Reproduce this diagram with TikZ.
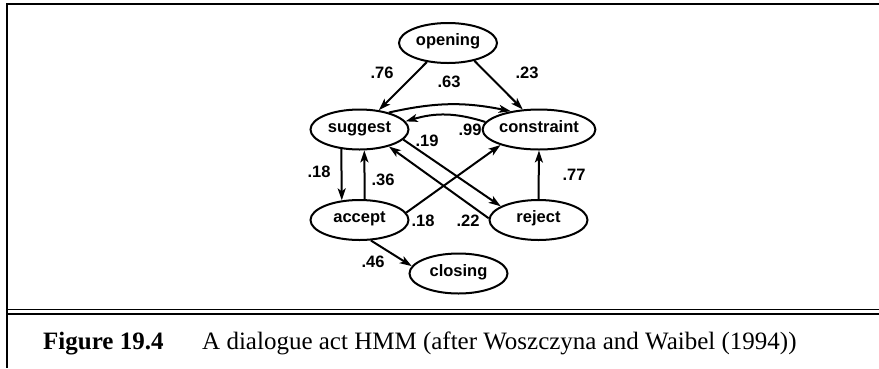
\documentclass[tikz,border=0pt]{standalone}
\usepackage{fontspec}
\setmainfont{Liberation Serif}
\newfontfamily\diagfont{Liberation Sans}
\usetikzlibrary{shapes.geometric,arrows.meta}
\tikzset{
  state/.style={ellipse,draw,line width=2pt,minimum width=98pt,minimum height=40pt,inner sep=0pt,
    font=\diagfont\bfseries\fontsize{16.5}{18}\selectfont,text height=5pt,text depth=0pt},
  prob/.style={inner sep=0pt,font=\diagfont\bfseries\fontsize{16.5}{18}\selectfont,text height=11.5pt,text depth=0pt},
  arr/.style={line width=2pt,-{Stealth[length=12pt,width=8pt,inset=3pt]}},
  rule/.style={line cap=butt},
  captxt/.style={inner sep=0pt,anchor=base west,font=\fontsize{25}{30}\selectfont}
}
\begin{document}
\begin{tikzpicture}[x=1pt,y=-1pt]
\useasboundingbox (0,0) rectangle (879,368);
% frame
\draw[rule,line width=2pt] (6,4) -- (879,4);
\draw[rule,line width=1.7pt] (6.8,3) -- (6.8,368);
\draw[rule,line width=1.3pt] (6,309.8) -- (879,309.8);
\draw[rule,line width=2.5pt] (6,313.8) -- (879,313.8);
% states
\node[state] (opening) at (448,43) {opening};
\node[state] (suggest) at (359.5,129.5) {suggest};
\node[state] (constraint) at (539,129.5) {constraint};
\node[state] (accept) at (359.5,220) {accept};
\node[state] (reject) at (538.5,220) {reject};
\node[state] (closing) at (458.5,273.5) {closing};
% transitions
\draw[arr] (opening.222) -- (suggest.45);
\draw[arr] (opening.326) -- (constraint.129);
\draw[arr] (suggest.30) to[bend left=12] (constraint.147);
\draw[arr] (constraint.172) to[bend right=17] (suggest.10);
\draw[arr] (suggest.347) -- (reject.160);
\draw[arr] (reject.178) -- (suggest.330);
\draw[arr] (accept.9) -- (constraint.202);
\draw[arr] (suggest.227.6) -- (accept.132.4);
\draw[arr] (accept.76.2) -- (suggest.283.8);
\draw[arr] (reject.north) -- (constraint.south);
\draw[arr] (accept.299.6) -- (closing.171);
% probabilities
\node[prob] (p76) at (382,73) {.76};
\node[prob] (p23) at (527,73) {.23};
\node[prob] (p63) at (449,82) {.63};
\node[prob] (p99) at (470,130) {.99};
\node[prob] (p19) at (427,141) {.19};
\node[prob] (p18a) at (319,172) {.18};
\node[prob] (p36) at (383,180) {.36};
\node[prob] (p77) at (574,175) {.77};
\node[prob] (p18b) at (423,221) {.18};
\node[prob] (p22) at (468,221) {.22};
\node[prob] (p46) at (373,262) {.46};
% caption
\node[captxt] (figlabel) at (43,349) {\bfseries Figure 19.4};
\node[captxt] (figtext) at (202,349) {A dialogue act HMM (after Woszczyna and Waibel (1994))};
\end{tikzpicture}
\end{document}
